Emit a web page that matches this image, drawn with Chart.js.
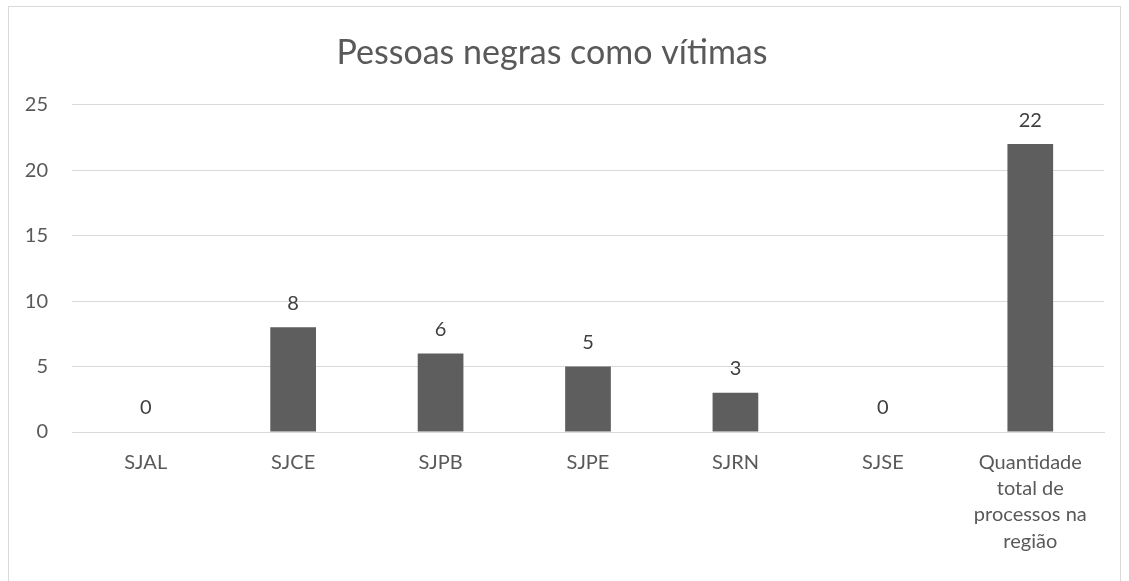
<!DOCTYPE html>
<html>
<head>
<meta charset="utf-8">
<script src="https://cdn.jsdelivr.net/npm/chart.js@4/dist/chart.umd.min.js"></script>
<style>
html,body{margin:0;padding:0;background:#fff;}
#wrap{position:absolute;left:0;top:0;width:1129px;height:581px;}
</style>
</head>
<body>
<div id="wrap"><canvas id="c" width="1129" height="581"></canvas></div>
<script>
const titleText = 'Pessoas negras como vítimas';
const categories = ['SJAL', 'SJCE', 'SJPB', 'SJPE', 'SJRN', 'SJSE', ['Quantidade', 'total de', 'processos na', 'região']];
const values = [0, 8, 6, 5, 3, 0, 22];
const yMin = 0, yMax = 25, yStep = 5;

const FONT = 'Lato, "Open Sans", sans-serif';

const frame = {
  id: 'frame',
  beforeDraw(chart) {
    const ctx = chart.ctx;
    ctx.save();
    ctx.fillStyle = '#fff';
    ctx.fillRect(0, 0, chart.width, chart.height);
    ctx.strokeStyle = '#d9d9d9';
    ctx.lineWidth = 1;
    ctx.strokeRect(8.5, 6.5, 1112, 620);
    ctx.restore();
  }
};

const labels = {
  id: 'valueLabels',
  afterDatasetsDraw(chart) {
    const ctx = chart.ctx;
    const meta = chart.getDatasetMeta(0);
    ctx.save();
    ctx.font = '20px ' + FONT;
    ctx.fillStyle = '#404040';
    ctx.textAlign = 'center';
    ctx.textBaseline = 'middle';
    meta.data.forEach((bar, i) => {
      ctx.fillText(String(values[i]), bar.x, bar.y - 24);
    });
    ctx.restore();
  }
};

new Chart(document.getElementById('c'), {
  type: 'bar',
  data: {
    labels: categories,
    datasets: [{
      data: values,
      backgroundColor: '#5e5e5e',
      categoryPercentage: 1,
      barPercentage: 0.31
    }]
  },
  options: {
    responsive: false,
    animation: false,
    devicePixelRatio: 1,
    layout: { padding: { left: 0, right: 25, top: 0, bottom: 0 } },
    plugins: {
      legend: { display: false },
      tooltip: { enabled: false },
      title: {
        display: true,
        text: titleText,
        color: '#595959',
        font: { family: FONT, size: 34, weight: 'normal', lineHeight: 1.2 },
        padding: { top: 33, bottom: 31 }
      }
    },
    scales: {
      x: {
        grid: { display: false, drawTicks: false },
        border: { display: true, color: '#d9d9d9', width: 1 },
        ticks: {
          color: '#595959',
          font: { family: FONT, size: 20, lineHeight: 1.32 },
          padding: 17,
          maxRotation: 0,
          autoSkip: false
        },
        afterFit(s) { s.height = 149; }
      },
      y: {
        min: yMin, max: yMax,
        grid: { color: '#d9d9d9', drawTicks: false },
        border: { display: false },
        ticks: {
          stepSize: yStep,
          color: '#595959',
          font: { family: FONT, size: 20 },
          padding: 24
        },
        afterFit(s) { s.width = 72; }
      }
    }
  },
  plugins: [frame, labels]
});
</script>
</body>
</html>
